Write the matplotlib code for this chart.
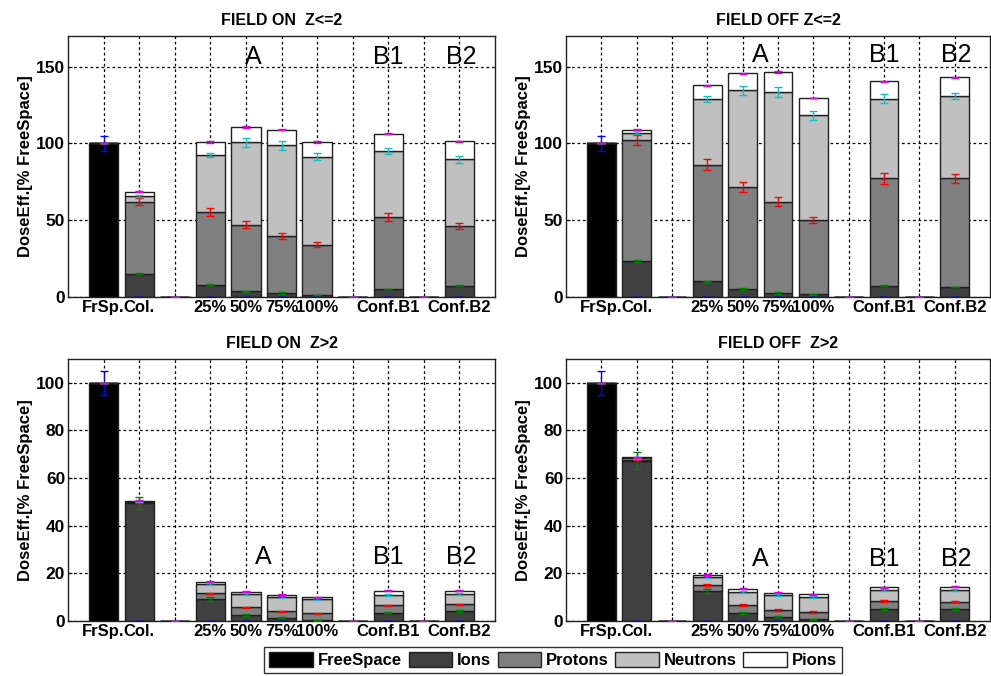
import numpy as np
import matplotlib
matplotlib.use("Agg")
import matplotlib.pyplot as plt

plt.rcParams["font.family"] = ["Liberation Sans", "DejaVu Sans"]
plt.rcParams["font.weight"] = "bold"

# x positions 1..11 (3, 8, 10 are empty spacers)
tick_labels = ["FrSp.", "Col.", "", "25%", "50%", "75%", "100%", "", "Conf.B1", "", "Conf.B2"]
components = ["FreeSpace", "Ions", "Protons", "Neutrons", "Pions"]
bar_colors = ["#000000", "#404040", "#808080", "#c0c0c0", "#ffffff"]
err_colors = ["#0000ff", "#008000", "#ff0000", "#10c0c0", "#e000e0"]

freespace = [100, 0, 0, 0, 0, 0, 0, 0, 0, 0, 0]
freespace_err = [5, 0, 0, 0, 0, 0, 0, 0, 0, 0, 0]

# FIELD ON Z<=2  (rows: ions, protons, neutrons, pions)
on_le2 = [
    [0, 15.2, 0, 8.0, 3.7, 2.6, 1.3, 0, 5.2, 0, 7.4],
    [0, 46.8, 0, 47.4, 43.5, 37.2, 32.8, 0, 46.8, 0, 39.1],
    [0, 3.7, 0, 37.0, 53.5, 59.1, 57.4, 0, 43.0, 0, 43.1],
    [0, 3.0, 0, 8.5, 10.2, 10.0, 9.4, 0, 11.3, 0, 11.9],
]
on_le2_err = [
    [0, 0.4, 0, 0.4, 0.4, 0.4, 0.3, 0, 0.3, 0, 0.3],
    [0, 2.4, 0, 2.4, 2.5, 2.0, 1.5, 0, 2.5, 0, 2.0],
    [0, 0.8, 0, 1.5, 2.8, 3.0, 2.5, 0, 2.0, 0, 2.0],
    [0, 0.3, 0, 0.4, 0.5, 0.4, 0.4, 0, 0.4, 0, 0.4],
]

# FIELD OFF Z<=2
off_le2 = [
    [0, 23.3, 0, 10.2, 5.2, 2.6, 1.7, 0, 7.4, 0, 6.5],
    [0, 78.9, 0, 75.9, 66.5, 59.4, 48.3, 0, 70.0, 0, 70.9],
    [0, 4.8, 0, 43.0, 62.9, 71.5, 68.3, 0, 51.7, 0, 53.5],
    [0, 1.9, 0, 8.7, 11.1, 13.0, 11.3, 0, 11.3, 0, 12.1],
]
off_le2_err = [
    [0, 0.6, 0, 0.5, 0.4, 0.4, 0.4, 0, 0.3, 0, 0.3],
    [0, 3.5, 0, 3.5, 3.0, 3.0, 2.0, 0, 3.5, 0, 3.0],
    [0, 0.8, 0, 2.0, 3.0, 3.5, 3.0, 0, 2.8, 0, 2.0],
    [0, 0.4, 0, 0.3, 0.4, 0.4, 0.3, 0, 0.4, 0, 0.4],
]

# FIELD ON Z>2
on_gt2 = [
    [0, 49.4, 0, 9.2, 2.5, 1.4, 0.4, 0, 3.5, 0, 4.2],
    [0, 0.4, 0, 2.4, 3.2, 2.6, 2.8, 0, 3.1, 0, 2.8],
    [0, 0.3, 0, 3.9, 5.6, 6.2, 5.9, 0, 4.3, 0, 4.3],
    [0, 0.4, 0, 1.0, 1.0, 0.7, 0.8, 0, 1.8, 0, 1.4],
]
on_gt2_err = [
    [0, 2.5, 0, 0.9, 0.3, 0.3, 0.2, 0, 0.3, 0, 0.3],
    [0, 0.3, 0, 0.3, 0.3, 0.3, 0.3, 0, 0.3, 0, 0.3],
    [0, 0.3, 0, 0.4, 0.4, 0.4, 0.4, 0, 0.4, 0, 0.4],
    [0, 0.3, 0, 0.3, 0.3, 0.3, 0.3, 0, 0.3, 0, 0.3],
]

# FIELD OFF Z>2
off_gt2 = [
    [0, 67.3, 0, 12.7, 3.5, 1.8, 0.7, 0, 4.9, 0, 4.9],
    [0, 0.5, 0, 2.4, 3.2, 2.8, 3.1, 0, 3.5, 0, 3.2],
    [0, 0.5, 0, 3.5, 5.6, 6.2, 6.4, 0, 4.6, 0, 4.9],
    [0, 0.4, 0, 0.8, 1.3, 1.1, 1.0, 0, 1.1, 0, 1.4],
]
off_gt2_err = [
    [0, 3.5, 0, 0.9, 0.4, 0.3, 0.2, 0, 0.4, 0, 0.4],
    [0, 0.3, 0, 0.3, 0.3, 0.3, 0.3, 0, 0.3, 0, 0.3],
    [0, 0.3, 0, 0.4, 0.4, 0.4, 0.4, 0, 0.4, 0, 0.4],
    [0, 0.3, 0, 0.3, 0.3, 0.3, 0.3, 0, 0.3, 0, 0.3],
]

panels = [
    ("FIELD ON  Z<=2", on_le2, on_le2_err, 170, [0, 50, 100, 150], 151.5, 5.2),
    ("FIELD OFF Z<=2", off_le2, off_le2_err, 170, [0, 50, 100, 150], 153.0, 5.5),
    ("FIELD ON  Z>2", on_gt2, on_gt2_err, 110, [0, 20, 40, 60, 80, 100], 24.0, 5.5),
    ("FIELD OFF  Z>2", off_gt2, off_gt2_err, 110, [0, 20, 40, 60, 80, 100], 23.2, 5.5),
]

W, H = 991, 676
fig = plt.figure(figsize=(W / 100, H / 100), dpi=100)
boxes = [(68, 36, 495, 297), (566, 36, 990, 297), (68, 359, 495, 621), (566, 359, 990, 621)]

x = np.arange(1, 12)
for (title, vals, errs, ymax, yticks, label_y, a_x), (l, t, r, b) in zip(panels, boxes):
    ax = fig.add_axes([l / W, 1 - b / H, (r - l) / W, (b - t) / H])
    series = [freespace] + vals
    series_err = [freespace_err] + errs
    bottom = np.zeros(len(x))
    handles = []
    for name, v, c in zip(components, series, bar_colors):
        v = np.array(v, dtype=float)
        h = ax.bar(x, v, width=0.82, bottom=bottom, color=c, edgecolor="#202020",
                   linewidth=1.0, label=name, zorder=2)
        handles.append(h)
        bottom = bottom + v
    bottom = np.zeros(len(x))
    for v, e, c in zip(series, series_err, err_colors):
        bottom = bottom + np.array(v, dtype=float)
        ax.errorbar(x, bottom, yerr=e, fmt="none", ecolor=c, elinewidth=1.0,
                    capsize=2.6, capthick=1.0, zorder=3)

    ax.set_xlim(0, 12)
    ax.set_ylim(0, ymax)
    ax.set_xticks(x)
    ax.set_xticklabels(tick_labels)
    ax.set_yticks(yticks)
    ax.tick_params(direction="in", length=3, labelsize=12, pad=2)
    ax.tick_params(axis="y", labelsize=12.5)
    for lab in ax.get_xticklabels() + ax.get_yticklabels():
        lab.set_fontweight("bold")
    ax.grid(True, color="black", linestyle=(0, (2.2, 2.2)), linewidth=0.9)
    ax.set_axisbelow(True)
    for s in ax.spines.values():
        s.set_linewidth(1.0)
        s.set_color("#202020")
    ax.set_title(title, fontsize=11.5, fontweight="bold", pad=8)
    ax.set_ylabel("DoseEff.[% FreeSpace]", fontsize=12, fontweight="bold", labelpad=2)
    for txt, tx in zip(["A", "B1", "B2"], [a_x, 9.0, 11.05]):
        ax.text(tx, label_y, txt, fontsize=18, fontweight="normal", ha="center", va="baseline")

fig.legend(handles, components, loc="center", bbox_to_anchor=(553 / W, 1 - 660 / H),
           ncol=5, frameon=True, fancybox=False, edgecolor="black",
           handlelength=2.6, handleheight=1.0, handletextpad=0.3, columnspacing=0.4,
           borderpad=0.3, prop={"weight": "bold", "size": 12})
fig.savefig("out.png", dpi=100)
